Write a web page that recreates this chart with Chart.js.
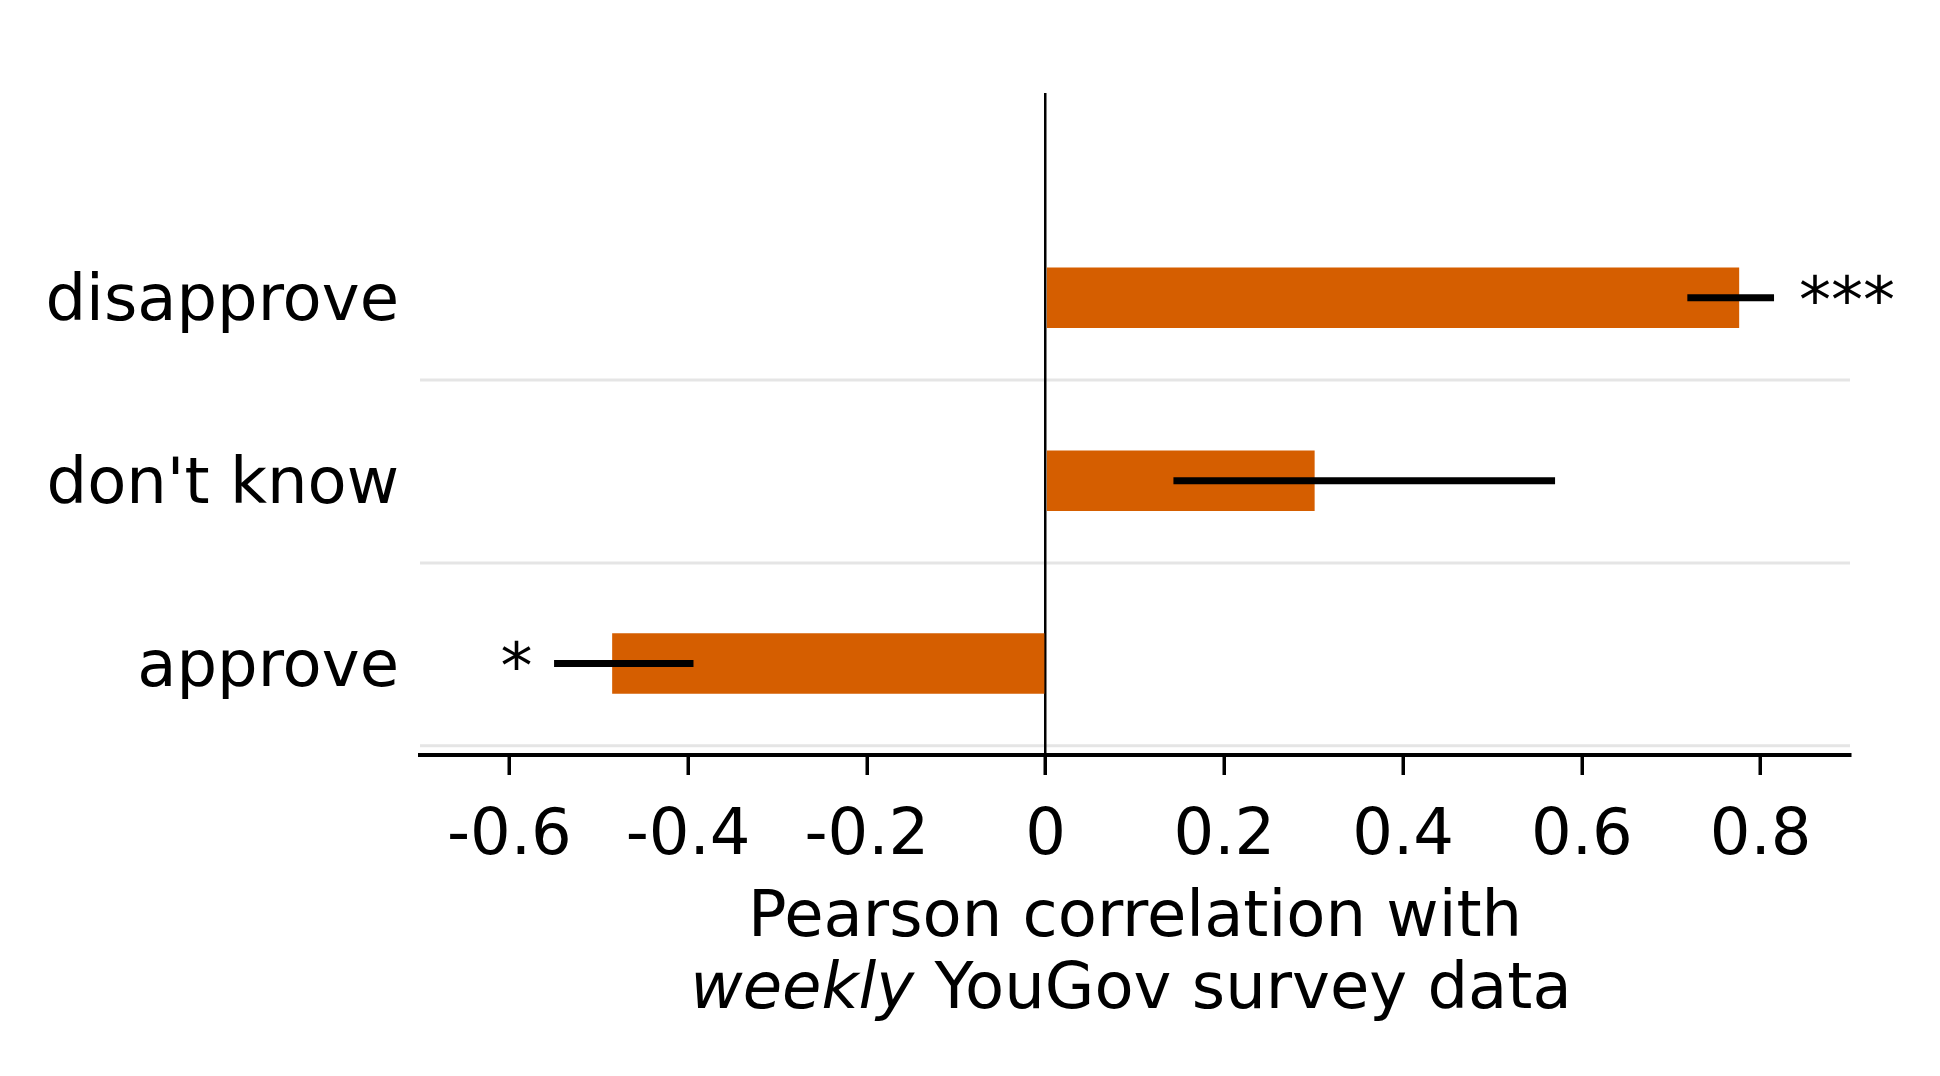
<!DOCTYPE html>
<html>
<head>
<meta charset="utf-8">
<script src="https://cdn.jsdelivr.net/npm/chart.js@4/dist/chart.umd.min.js"></script>
<style>
  body { margin: 0; background: #fff; }
  canvas { display: block; }
</style>
</head>
<body>
<canvas id="corrChart" width="1940" height="1076"></canvas>
<script>
// categories top to bottom
const categories = ['disapprove', "don't know", 'approve'];
const correlations = [0.776, 0.301, -0.485];
const ciLow = [0.718, 0.143, -0.550];
const ciHigh = [0.815, 0.570, -0.394];
const stars = ['***', '', '*'];
const xTicks = [-0.6, -0.4, -0.2, 0, 0.2, 0.4, 0.6, 0.8];

const FONT = 'DejaVu Sans';
const SIZE = 64;
const n = categories.length;
const pos = categories.map((c, i) => n - 1 - i);

// light grey separators, drawn under everything
const separators = {
    id: 'separators',
    beforeDraw(chart) {
        const { ctx, chartArea } = chart;
        const y = chart.scales.y;
        ctx.save();
        ctx.strokeStyle = '#e5e5e5';
        ctx.lineWidth = 3;
        for (let i = 0; i < n; i++) {
            const py = y.getPixelForValue(i - 0.45);
            ctx.beginPath();
            ctx.moveTo(chartArea.left, py);
            ctx.lineTo(chartArea.right, py);
            ctx.stroke();
        }
        ctx.restore();
    }
};

// error bars + significance stars
const errorBars = {
    id: 'errorBars',
    afterDatasetsDraw(chart) {
        const { ctx } = chart;
        const x = chart.scales.x, y = chart.scales.y;
        ctx.save();
        ctx.strokeStyle = '#000';
        ctx.fillStyle = '#000';
        ctx.lineWidth = 7;
        ctx.font = SIZE + 'px "' + FONT + '"';
        ctx.textBaseline = 'middle';
        categories.forEach((c, i) => {
            const py = y.getPixelForValue(pos[i]);
            ctx.beginPath();
            ctx.moveTo(x.getPixelForValue(ciLow[i]), py);
            ctx.lineTo(x.getPixelForValue(ciHigh[i]), py);
            ctx.stroke();
            if (stars[i]) {
                if (correlations[i] >= 0) {
                    ctx.textAlign = 'left';
                    ctx.fillText(stars[i], x.getPixelForValue(ciHigh[i] + 0.028), py + 8);
                } else {
                    ctx.textAlign = 'right';
                    ctx.fillText(stars[i], x.getPixelForValue(ciLow[i] - 0.024), py + 8);
                }
            }
        });
        ctx.restore();
    }
};

// two-line axis title with italic "weekly"
const axisTitle = {
    id: 'axisTitle',
    afterDraw(chart) {
        const { ctx, chartArea } = chart;
        const cx = (chartArea.left + chartArea.right) / 2;
        ctx.save();
        ctx.fillStyle = '#000';
        ctx.textBaseline = 'alphabetic';
        ctx.textAlign = 'center';
        ctx.font = SIZE + 'px "' + FONT + '"';
        ctx.fillText('Pearson correlation with', cx, chartArea.bottom + 181);

        const it = 'weekly', rest = ' YouGov survey data';
        ctx.font = 'italic ' + SIZE + 'px "' + FONT + '"';
        const w1 = ctx.measureText(it).width;
        ctx.font = SIZE + 'px "' + FONT + '"';
        const w2 = ctx.measureText(rest).width;
        const start = cx - (w1 + w2) / 2 - 4;
        ctx.textAlign = 'left';
        ctx.font = 'italic ' + SIZE + 'px "' + FONT + '"';
        ctx.fillText(it, start, chartArea.bottom + 253);
        ctx.font = SIZE + 'px "' + FONT + '"';
        ctx.fillText(rest, start + w1, chartArea.bottom + 253);
        ctx.restore();
    }
};

const ctx = document.getElementById('corrChart').getContext('2d');
new Chart(ctx, {
    type: 'bar',
    data: {
        datasets: [{
            data: correlations.map((v, i) => ({ x: v, y: pos[i] })),
            backgroundColor: '#d55e00',
            borderWidth: 0,
            barPercentage: 0.331,
            categoryPercentage: 1
        }]
    },
    options: {
        indexAxis: 'y',
        responsive: false,
        animation: false,
        devicePixelRatio: 1,
        layout: { padding: { top: 93, right: 90, left: 0, bottom: 0 } },
        plugins: { legend: { display: false }, tooltip: { enabled: false } },
        scales: {
            x: {
                type: 'linear',
                min: -0.7,
                max: 0.9,
                z: 1,
                afterBuildTicks: s => { s.ticks = xTicks.map(v => ({ value: v })); },
                afterFit: s => { s.height = 321; },
                grid: {
                    color: c => (c.tick && c.tick.value === 0) ? '#000' : 'rgba(0,0,0,0)',
                    lineWidth: 2.5,
                    tickColor: '#000',
                    tickWidth: 3.5,
                    tickLength: 20
                },
                border: { display: true, color: '#000', width: 4 },
                ticks: {
                    color: '#000',
                    padding: 24,
                    maxRotation: 0,
                    font: { family: FONT, size: SIZE },
                    callback: v => String(Math.round(v * 10) / 10)
                }
            },
            y: {
                type: 'linear',
                min: -0.5,
                max: 3.12,
                offset: false,
                afterBuildTicks: s => { s.ticks = pos.map(v => ({ value: v })); },
                afterFit: s => { s.width = 420; },
                grid: { display: false, drawTicks: false },
                border: { display: false },
                ticks: {
                    color: '#000',
                    padding: 21,
                    labelOffset: 6,
                    font: { family: FONT, size: SIZE },
                    callback: v => categories[n - 1 - v]
                }
            }
        }
    },
    plugins: [separators, errorBars, axisTitle]
});
</script>
</body>
</html>
